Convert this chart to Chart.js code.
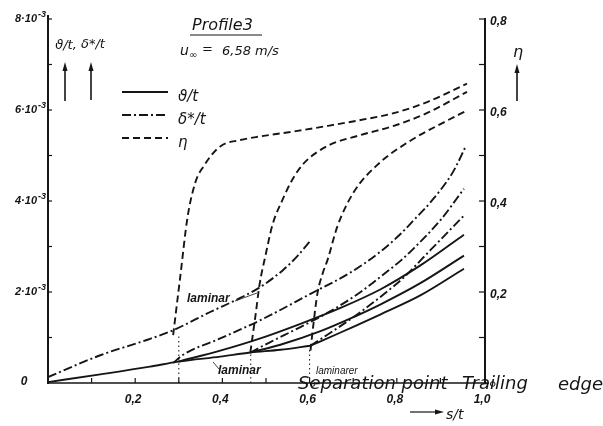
<!DOCTYPE html>
<html><head><meta charset="utf-8">
<script src="https://cdn.jsdelivr.net/npm/chart.js@4/dist/chart.umd.min.js"></script>
<style>html,body{margin:0;padding:0;background:#fff}#wrap{width:603px;height:426px;position:relative}</style>
</head><body><div id="wrap"><canvas id="c" width="603" height="426"></canvas></div>
<script>
// ---- tick labels ----
const xTickVals = [0.2, 0.4, 0.6, 0.8, 1.0];
const xTickLabels = ['0,2', '0,4', '0,6', '0,8', '1,0'];
const yTickVals = [2, 4, 6, 8];            // in units of 10^-3
const yTickMant = ['2', '4', '6', '8'];
const rTickVals = [0.2, 0.4, 0.6, 0.8];
const rTickLabels = ['0,2', '0,4', '0,6', '0,8'];

// ---- momentum thickness theta/t (10^-3) ----
const thetaLamX = [0, 0.12, 0.234, 0.299, 0.395, 0.464, 0.533, 0.602];
const thetaLamY = [0.02, 0.19, 0.36, 0.47, 0.58, 0.67, 0.73, 0.82];
const thetaT1X = [0.299, 0.395, 0.487, 0.579, 0.671, 0.763, 0.855, 0.954];
const thetaT1Y = [0.47, 0.71, 0.98, 1.30, 1.65, 2.06, 2.59, 3.26];
const thetaT2X = [0.464, 0.533, 0.625, 0.694, 0.763, 0.855, 0.954];
const thetaT2Y = [0.67, 0.84, 1.14, 1.42, 1.73, 2.20, 2.80];
const thetaT3X = [0.602, 0.671, 0.763, 0.855, 0.954];
const thetaT3Y = [0.82, 1.11, 1.51, 1.93, 2.51];

// ---- displacement thickness delta*/t (10^-3) ----
const deltaLamX = [0, 0.12, 0.234, 0.287, 0.372, 0.441, 0.487, 0.540, 0.572, 0.602];
const deltaLamY = [0.13, 0.61, 0.97, 1.16, 1.56, 1.87, 2.11, 2.49, 2.79, 3.13];
const deltaT1X = [0.287, 0.310, 0.395, 0.487, 0.602, 0.694, 0.763, 0.809, 0.839, 0.878, 0.929, 0.959];
const deltaT1Y = [0.44, 0.62, 0.98, 1.38, 1.96, 2.43, 2.89, 3.28, 3.58, 3.98, 4.64, 5.22];
const deltaT2X = [0.464, 0.510, 0.579, 0.648, 0.717, 0.770, 0.809, 0.839, 0.901, 0.954];
const deltaT2Y = [0.67, 0.90, 1.23, 1.58, 2.00, 2.39, 2.69, 2.96, 3.59, 4.27];
const deltaT3X = [0.602, 0.655, 0.717, 0.770, 0.816, 0.878, 0.954];
const deltaT3Y = [0.82, 1.15, 1.56, 1.95, 2.32, 2.93, 3.68];

// ---- eta (right axis) ----
const eta1X = [0.287, 0.303, 0.320, 0.338, 0.356, 0.395, 0.441, 0.487, 0.572, 0.641, 0.717, 0.793, 0.871, 0.961];
const eta1Y = [0.105, 0.231, 0.364, 0.441, 0.475, 0.520, 0.534, 0.542, 0.554, 0.565, 0.578, 0.593, 0.618, 0.658];
const eta2X = [0.464, 0.476, 0.485, 0.499, 0.515, 0.538, 0.561, 0.586, 0.641, 0.717, 0.793, 0.871, 0.961];
const eta2Y = [0.067, 0.149, 0.215, 0.281, 0.348, 0.403, 0.448, 0.482, 0.521, 0.545, 0.565, 0.594, 0.640];
const eta3X = [0.602, 0.609, 0.618, 0.630, 0.641, 0.664, 0.701, 0.756, 0.832, 0.908, 0.959];
const eta3Y = [0.071, 0.131, 0.197, 0.241, 0.270, 0.345, 0.419, 0.480, 0.533, 0.573, 0.598];

// ---- transition markers (dotted verticals) ----
const markerX = [0.30, 0.465, 0.60];
const markerTop = [1.05, 0.67, 0.75];

const INK = '#151515';
const DASHDOT = [9, 3, 2, 3];
const DASHED = [7, 4];
const pts = (xs, ys) => xs.map((x, i) => ({x: x, y: ys[i]}));
function line(data, dash, axis, w) {
  return {data: data, borderColor: INK, borderWidth: w || 1.9, borderDash: dash || [], pointRadius: 0,
          showLine: true, fill: false, cubicInterpolationMode: 'monotone', yAxisID: axis || 'y'};
}
const datasets = [
  line(pts(thetaLamX, thetaLamY)), line(pts(thetaT1X, thetaT1Y)), line(pts(thetaT2X, thetaT2Y)), line(pts(thetaT3X, thetaT3Y)),
  line(pts(deltaLamX, deltaLamY), DASHDOT), line(pts(deltaT1X, deltaT1Y), DASHDOT),
  line(pts(deltaT2X, deltaT2Y), DASHDOT), line(pts(deltaT3X, deltaT3Y), DASHDOT),
  line(pts(eta1X, eta1Y), DASHED, 'yR'), line(pts(eta2X, eta2Y), DASHED, 'yR'), line(pts(eta3X, eta3Y), DASHED, 'yR')
];
markerX.forEach((mx, i) => {
  const d = line([{x: mx, y: 0}, {x: mx, y: markerTop[i]}], [1.5, 3], 'y', 1);
  d.cubicInterpolationMode = 'default'; d.tension = 0;
  datasets.push(d);
});

function arrowUp(ctx, x, y1, y2) {
  ctx.beginPath(); ctx.moveTo(x, y1); ctx.lineTo(x, y2 + 6); ctx.lineWidth = 1.6; ctx.stroke();
  ctx.beginPath(); ctx.moveTo(x, y2); ctx.lineTo(x - 2.5, y2 + 9); ctx.lineTo(x + 2.5, y2 + 9); ctx.closePath(); ctx.fill();
}

const deco = {
  id: 'deco',
  afterDraw(chart) {
    const ctx = chart.ctx;
    const sX = chart.scales.x, sY = chart.scales.y, sR = chart.scales.yR;
    const X = v => sX.getPixelForValue(v), Y = v => sY.getPixelForValue(v), R = v => sR.getPixelForValue(v);
    ctx.save();
    ctx.strokeStyle = INK; ctx.fillStyle = INK; ctx.setLineDash([]);
    // axes
    ctx.lineWidth = 2;
    ctx.beginPath(); ctx.moveTo(X(0), Y(8) - 4); ctx.lineTo(X(0), Y(0) + 1); ctx.stroke();
    ctx.beginPath(); ctx.moveTo(X(1) + 1, R(0.8) - 1); ctx.lineTo(X(1) + 1, Y(0)); ctx.stroke();
    ctx.lineWidth = 1.6;
    ctx.beginPath(); ctx.moveTo(X(0), Y(0)); ctx.lineTo(X(1) + 5, Y(0)); ctx.stroke();
    // ticks
    ctx.lineWidth = 1.2;
    for (let v = 1; v <= 8; v++) { ctx.beginPath(); ctx.moveTo(X(0), Y(v)); ctx.lineTo(X(0) + 4, Y(v)); ctx.stroke(); }
    for (let k = 1; k <= 8; k++) { const v = k / 10; ctx.beginPath(); ctx.moveTo(X(1), R(v)); ctx.lineTo(X(1) - 5, R(v)); ctx.stroke(); }
    for (let k = 1; k <= 9; k++) { const v = k / 10; ctx.beginPath(); ctx.moveTo(X(v), Y(0)); ctx.lineTo(X(v), Y(0) - 5); ctx.stroke(); }
    // small circles on x axis
    ctx.lineWidth = 1;
    [0.607, 1.02].forEach(v => { ctx.beginPath(); ctx.arc(X(v), Y(0) + 1, 2.3, 0, Math.PI * 2); ctx.fillStyle = '#fff'; ctx.fill(); ctx.stroke(); });
    ctx.fillStyle = INK;
    // x tick labels
    ctx.font = 'italic bold 12px "Liberation Sans"'; ctx.textAlign = 'center'; ctx.textBaseline = 'middle';
    xTickVals.forEach((v, i) => ctx.fillText(xTickLabels[i], X(v) - 2, Y(0) + 17));
    // right tick labels
    ctx.textAlign = 'left';
    rTickVals.forEach((v, i) => ctx.fillText(rTickLabels[i], X(1) + 6, R(v) + 3));
    // left tick labels: m·10^-3
    yTickVals.forEach((v, i) => {
      const yy = Y(v);
      ctx.textAlign = 'right'; ctx.font = 'italic bold 9px "Liberation Sans"';
      ctx.fillText('-3', X(0) - 2, yy - 4);
      ctx.font = 'italic bold 11px "Liberation Sans"';
      ctx.fillText(yTickMant[i] + '·10', X(0) - 11, yy);
    });
    ctx.font = 'italic bold 12px "Liberation Sans"'; ctx.textAlign = 'center';
    ctx.fillText('0', 24, Y(0) - 1);
    // axis quantity labels with arrows
    ctx.font = 'italic 13px "DejaVu Sans"';
    ctx.fillText('ϑ/t,', 66, 46);
    ctx.fillText('δ*/t', 93, 45);
    ctx.font = 'italic 16px "DejaVu Sans"';
    ctx.fillText('η', 518, 53);
    arrowUp(ctx, 65, 101, 62);
    arrowUp(ctx, 91, 100, 62);
    arrowUp(ctx, 517, 101, 64);
    // title
    ctx.font = 'italic 16px "DejaVu Sans"'; ctx.textAlign = 'left';
    ctx.fillText('Profile3', 192, 26);
    ctx.lineWidth = 1.2; ctx.beginPath(); ctx.moveTo(190, 35); ctx.lineTo(262, 35); ctx.stroke();
    ctx.font = 'italic 14px "DejaVu Sans"';
    ctx.fillText('u', 180, 51);
    ctx.font = 'italic 10px "DejaVu Sans"';
    ctx.fillText('∞', 189, 55);
    ctx.font = 'italic 13px "DejaVu Sans"';
    ctx.fillText('=', 202, 50);
    ctx.fillText('6,58 m/s', 222, 52);
    // legend
    const leg = [[datasets[0], 'ϑ/t', 92], [datasets[4], 'δ*/t', 115], [datasets[8], 'η', 138]];
    leg.forEach(l => {
      ctx.setLineDash(l[0].borderDash); ctx.lineWidth = 1.9;
      ctx.beginPath(); ctx.moveTo(122, l[2]); ctx.lineTo(168, l[2]); ctx.stroke();
      ctx.setLineDash([]);
      ctx.font = 'italic 15px "DejaVu Sans"'; ctx.textAlign = 'left';
      ctx.fillText(l[1], 178, l[2] + 5);
    });
    // annotations
    ctx.font = 'italic bold 12px "Liberation Sans"';
    ctx.fillText('laminar', 187, 299);
    ctx.lineWidth = 0.8; ctx.beginPath(); ctx.moveTo(235, 301); ctx.lineTo(257, 293); ctx.stroke();
    ctx.fillText('laminar', 218, 371);
    ctx.beginPath(); ctx.moveTo(213, 362); ctx.lineTo(219, 369); ctx.stroke();
    ctx.font = 'italic 10px "Liberation Sans"';
    ctx.fillText('laminarer', 316, 371);
    ctx.font = 'italic 18px "DejaVu Sans"';
    ctx.fillText('Separation point', 298, 384);
    ctx.fillText('Trailing', 462, 384);
    ctx.fillText('edge', 558, 385);
    // s/t arrow
    ctx.lineWidth = 1.2; ctx.beginPath(); ctx.moveTo(410, 412); ctx.lineTo(438, 412); ctx.stroke();
    ctx.beginPath(); ctx.moveTo(444, 412); ctx.lineTo(435, 409.5); ctx.lineTo(435, 414.5); ctx.closePath(); ctx.fill();
    ctx.font = 'italic 14px "DejaVu Sans"';
    ctx.fillText('s/t', 446, 415);
    ctx.restore();
  }
};

new Chart(document.getElementById('c'), {
  type: 'scatter',
  data: {datasets: datasets},
  options: {
    responsive: false, animation: false,
    layout: {padding: {left: 48, right: 119, top: 19, bottom: 43}},
    plugins: {legend: {display: false}, tooltip: {enabled: false}},
    scales: {
      x: {type: 'linear', min: 0, max: 1, display: false},
      y: {type: 'linear', min: 0, max: 8, display: false},
      yR: {type: 'linear', min: 0, max: 0.8, display: false, position: 'right'}
    }
  },
  plugins: [deco]
});
</script></body></html>
